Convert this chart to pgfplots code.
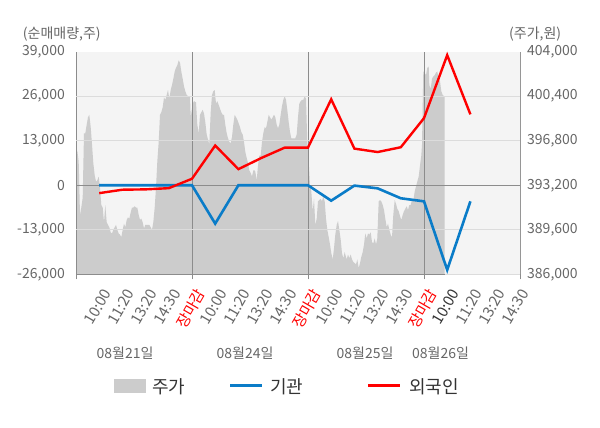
\documentclass[border=0pt]{standalone}
\usepackage{pgfplots}
\usepackage{pgfplotstable}
\pgfplotsset{compat=1.18}
\usepackage{fontspec}
\setmainfont{Noto Sans CJK KR}
\definecolor{bgcol}{HTML}{F4F4F4}
\definecolor{areagray}{HTML}{CCCCCC}
\definecolor{gridgray}{HTML}{DCDCDC}
\definecolor{daygray}{HTML}{8C8C8C}
\definecolor{tickgray}{HTML}{666666}
\definecolor{legtext}{HTML}{333333}
\definecolor{instblue}{HTML}{0A7CC8}
\definecolor{forred}{HTML}{FF0000}
\newcommand{\tickfont}{\fontsize{14bp}{16bp}\selectfont}
\newcommand{\xtickfont}{\fontsize{15bp}{17bp}\selectfont}
\newcommand{\legfont}{\fontsize{18bp}{20bp}\selectfont}

\pgfplotstableread{
x p
0.0 386000
0.0 394400
1.3 396000
2.7 395100
4.0 390800
5.3 391400
6.7 392200
8.0 397400
9.3 397400
10.7 398100
12.0 398700
13.3 398900
14.7 397900
16.0 396500
17.3 395000
18.7 394000
20.0 393500
21.3 393600
22.7 393900
24.0 393000
25.3 391600
26.7 391400
28.0 390200
29.3 391600
30.7 390200
32.0 390000
33.3 389800
34.7 389400
36.0 389300
37.3 389600
38.7 389800
40.0 390000
41.3 389600
42.7 389300
44.0 389200
45.3 389000
46.7 389600
48.0 390100
49.3 389800
50.7 390400
52.0 390600
53.3 390500
54.7 391000
56.0 391400
57.3 391400
58.7 391500
60.0 391400
61.3 391400
62.7 390800
64.0 390400
65.3 390500
66.7 390200
68.0 389700
69.3 390000
70.7 390000
72.0 390000
73.3 390000
74.7 389800
76.0 389600
77.3 390200
78.7 391400
80.0 393000
81.3 395100
82.7 396700
84.0 398900
85.3 399100
86.7 399500
88.0 400300
89.3 400100
90.7 400500
92.0 400900
93.3 400200
94.7 400900
96.0 401300
97.3 401800
98.7 402400
100.0 402700
101.3 402900
102.7 403300
104.0 403100
105.3 402400
106.7 401800
108.0 401200
109.3 400800
110.7 400500
112.0 400400
113.3 400400
114.0 400400
114.7 398700
116.7 399800
118.0 400000
120.0 399900
121.3 398100
122.7 397400
124.0 398900
125.3 399100
126.7 399300
128.0 399000
129.3 398300
130.7 397300
132.0 396900
133.3 396500
134.7 399100
136.0 400500
137.3 400800
138.7 400900
140.0 399800
141.3 400000
142.7 399700
144.0 399400
145.3 399100
146.7 398900
148.0 398900
149.3 398100
150.7 397400
152.0 397000
153.3 396700
154.7 396600
156.0 397100
157.3 398100
158.7 398900
160.0 398700
161.3 398500
162.7 398200
164.0 397900
165.3 397500
166.7 397300
168.0 396700
169.3 395900
170.7 395400
172.0 395000
173.3 394400
174.7 394200
176.0 393900
177.3 394400
178.7 394400
179.3 394300
180.7 393600
182.0 394800
183.3 395600
184.7 395600
186.0 396700
187.3 397400
188.7 397900
190.0 397800
191.3 398300
192.7 398900
194.0 398700
195.3 398500
196.7 398700
198.0 398900
199.3 398700
200.7 398100
202.0 397800
203.3 398100
204.7 398900
206.0 399600
207.3 400100
208.7 400400
210.0 400100
211.3 399300
212.7 398300
214.0 397500
215.3 397000
216.7 397000
218.0 397000
219.3 397000
220.7 397300
222.0 398700
223.3 399800
224.7 400000
226.0 400100
227.3 400100
228.7 400400
230.0 400200
231.3 396700
232.7 395100
234.0 393200
235.3 392700
236.7 391100
238.0 392100
239.3 390000
240.7 390500
242.0 391900
243.3 392000
244.7 392100
246.0 391900
247.3 392300
248.7 391900
250.0 390500
251.3 389600
252.7 389000
254.0 388400
255.3 387700
256.7 387200
258.0 388100
259.3 389200
260.7 390000
262.0 390300
263.3 389600
264.7 388800
266.0 387700
267.3 387300
268.7 387800
269.3 387600
270.7 387200
272.0 387600
273.3 387300
274.7 387600
276.0 387200
277.3 387000
278.7 386900
280.0 386800
281.3 387200
282.7 386500
284.0 386900
285.3 387400
286.7 387800
288.0 388400
289.3 389300
290.7 388900
292.0 389300
293.3 389200
294.7 389400
296.0 388600
297.3 388500
298.7 388900
300.0 388400
301.3 388900
302.7 391900
304.0 392000
305.3 391900
306.7 391600
308.0 391200
309.3 390500
310.7 389800
312.0 390100
313.3 389600
314.7 389200
316.0 389000
317.3 390800
318.7 392000
320.0 391700
321.3 391300
322.7 391100
324.0 390700
325.3 390400
326.7 390800
328.0 391100
329.3 391300
330.7 391500
332.0 391200
333.3 391600
334.7 391600
336.0 392000
337.3 391900
338.7 392700
340.0 393100
341.3 393500
342.7 393900
344.0 394800
345.3 395600
346.0 396500
347.3 402400
348.7 402300
350.0 402100
351.3 402700
352.7 402800
353.3 401300
354.7 401000
356.0 401800
357.3 402000
358.7 402100
360.0 402300
361.3 402400
362.7 401800
364.0 401600
365.3 400800
366.7 400500
368.0 400400
368.7 400400
368.7 386000
}\pricetable

\pgfplotstableread{
x inst
1 0
2 0
3 0
4 0
5 0
6 -11200
7 0
8 0
9 0
10 0
11 -4500
12 -100
13 -900
14 -3800
15 -4700
16 -24700
17 -4700
}\insttable

\pgfplotstableread{
x frgn
1 -2300
2 -1300
3 -1200
4 -850
5 1900
6 11600
7 4700
8 8000
9 11000
10 11000
11 25100
12 10700
13 9700
14 11100
15 19600
16 38000
17 20700
}\frgntable

\begin{document}
\begin{tikzpicture}
\useasboundingbox (0,0) rectangle (600bp,428bp);
% price area (right axis)
\begin{axis}[
  at={(76bp,153.7bp)}, anchor=south west,
  scale only axis, width=444bp, height=222.6bp,
  xmin=0, xmax=444, ymin=386000, ymax=404000,
  axis background/.style={fill=bgcol},
  axis line style={draw=none},
  xtick=\empty,
  ytick={386000,389600,393200,396800,400400,404000},
  yticklabels={{386,000},{389,600},{393,200},{396,800},{400,400},{404,000}},
  scaled y ticks=false,
  yticklabel pos=right,
  major tick length=0pt,
  /pgf/number format/assume math mode=true,
  yticklabel style={anchor=west, inner sep=0pt, xshift=7bp, text=tickgray, font=\tickfont},
]
\addplot[fill=areagray, draw=none] table[x=x, y=p] {\pricetable};
\end{axis}
% net buying (left axis)
\begin{axis}[
  at={(76bp,153.7bp)}, anchor=south west,
  scale only axis, width=444bp, height=222.6bp,
  xmin=0, xmax=19.138, ymin=-26000, ymax=39000,
  axis line style={draw=none},
  ytick={-26000,-13000,0,13000,26000,39000},
  yticklabels={{-26,000},{-13,000},{0},{13,000},{26,000},{39,000}},
  scaled y ticks=false,
  ytick pos=left,
  /pgf/number format/assume math mode=true,
  yticklabel style={anchor=east, inner sep=0pt, xshift=-11bp, text=tickgray, font=\tickfont},
  major tick length=0pt,
  extra y ticks={-13000,13000,26000},
  extra y tick labels={},
  extra y tick style={grid=major, major grid style={gridgray, line width=1bp}},
  xtick={1,...,19},
  xticklabels={{10:00},{11:20},{13:20},{14:30},{\textcolor{forred}{장마감}},
               {10:00},{11:20},{13:20},{14:30},{\textcolor{forred}{장마감}},
               {10:00},{11:20},{13:20},{14:30},{\textcolor{forred}{장마감}},
               {\textcolor{legtext}{10:00}},{11:20},{13:20},{14:30}},
  xtick pos=bottom,
  tick align=outside,
  minor xtick={0,5,10,15,19.138},
  xminorgrids=true,
  minor grid style={daygray, line width=1bp},
  minor tick length=5bp,
  every minor tick/.style={daygray, line width=1bp},
  xticklabel style={xshift=3bp, yshift=-13bp, rotate=60, anchor=north east, inner sep=0pt, text=tickgray, font=\xtickfont},
]
\draw[gridgray, line width=1bp] (rel axis cs:1,0) -- (rel axis cs:1,1);
\draw[gridgray, line width=1bp] (rel axis cs:0,0) -- (rel axis cs:1,0);
\draw[daygray, line width=1bp] (rel axis cs:0,0) -- (rel axis cs:0.8304,0);
\draw[daygray, line width=1bp] (axis cs:0,0) -- (axis cs:19.138,0);
\addplot[instblue, line width=2.6bp] table[x=x, y=inst] {\insttable};
\addplot[forred, line width=2.4bp] table[x=x, y=frgn] {\frgntable};
\end{axis}
% axis titles
\node[anchor=west, inner sep=0pt, text=tickgray, font=\tickfont] at (22.7bp,394bp) {(순매매량,주)};
\node[anchor=west, inner sep=0pt, text=tickgray, font=\tickfont] at (509bp,394bp) {(주가,원)};
% date labels
\node[inner sep=0pt, text=tickgray, font=\tickfont] at (125bp,75bp) {08월21일};
\node[inner sep=0pt, text=tickgray, font=\tickfont] at (245bp,75bp) {08월24일};
\node[inner sep=0pt, text=tickgray, font=\tickfont] at (365bp,75bp) {08월25일};
\node[inner sep=0pt, text=tickgray, font=\tickfont] at (440.5bp,75bp) {08월26일};
% legend
\fill[areagray] (114bp,35.3bp) rectangle (145.7bp,49bp);
\node[anchor=west, inner sep=0pt, text=legtext, font=\legfont] at (152bp,41.5bp) {주가};
\draw[instblue, line width=3bp] (230bp,42.3bp) -- (262bp,42.3bp);
\node[anchor=west, inner sep=0pt, text=legtext, font=\legfont] at (270bp,41.5bp) {기관};
\draw[forred, line width=3bp] (368bp,42.3bp) -- (400bp,42.3bp);
\node[anchor=west, inner sep=0pt, text=legtext, font=\legfont] at (409bp,41.5bp) {외국인};
\end{tikzpicture}
\end{document}
